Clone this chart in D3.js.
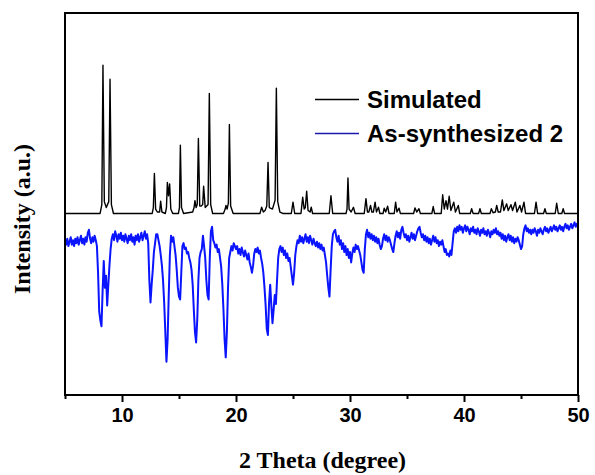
<!DOCTYPE html>
<html>
<head>
<meta charset="utf-8">
<script src="https://cdn.jsdelivr.net/npm/d3@7"></script>
<style>
  html, body { margin: 0; padding: 0; background: #fff; }
  svg { display: block; }
</style>
</head>
<body>
<svg id="chart" width="595" height="475"></svg>
<script>
// ---------------- DATA ----------------
const xTicks = [10, 20, 30, 40, 50];
const xMinorTicks = [5, 15, 25, 35, 45];
const seriesNames = ["Simulated", "As-synthesized 2"];

// Simulated pattern: [2theta, relative intensity] polyline points
const simPoints = [
  [5,0],
  [8.08,0],[8.23,6],[8.33,100],[8.45,8],[8.62,4],[8.84,8],[8.95,90.6],[9.07,6],[9.25,0],
  [12.65,0],[12.75,4],[12.84,27],[12.95,3],[13.1,1],[13.3,1],[13.39,8.3],[13.5,1],
  [13.8,0],[13.9,4],[13.98,21],[14.08,12],[14.18,20],[14.28,3],[14.45,0],
  [14.95,0],[15.04,4],[15.12,46],[15.22,4],[15.4,0],
  [16.2,1],[16.32,4],[16.4,8.7],[16.5,4],[16.6,6],[16.7,50.6],[16.82,5],[16.95,5],[17.08,6],[17.16,18.4],[17.3,4],[17.55,6],[17.66,81],[17.78,6],[17.95,0],
  [18.9,0],[19.05,3],[19.12,5.4],[19.22,3],[19.33,7],[19.42,60],[19.53,5],[19.75,0],
  [22.1,0],[22.25,4.2],[22.4,1],[22.55,2],[22.7,5],[22.81,34.5],[22.92,4],[23.2,3],[23.43,9],[23.54,84.5],[23.66,8],[23.85,1],[24.1,0],
  [24.85,0],[25.0,7.6],[25.15,0],
  [25.7,0],[25.85,11],[25.98,3],[26.08,4],[26.2,15],[26.32,2],[26.5,1],[26.6,4.2],[26.72,0],
  [28.18,0],[28.33,12],[28.48,0],
  [29.65,0],[29.74,3],[29.82,24],[29.92,3],[30.1,1],[30.3,4.2],[30.45,0],
  [31.25,0],[31.4,10],[31.53,1],[31.65,1],[31.8,5.4],[31.92,1],[32.05,1],[32.2,7.6],[32.32,1],[32.5,4.2],[32.62,0],
  [32.9,0],[33.0,3.6],[33.13,1],[33.3,4.9],[33.42,0],
  [33.88,0],[34.0,7.6],[34.12,1],[34.3,3.6],[34.42,0],
  [35.58,0],[35.7,3.8],[35.85,1],[36.05,3.2],[36.17,0],
  [37.18,0],[37.3,4.7],[37.42,0],
  [38.0,0],[38.13,12.6],[38.27,3],[38.42,8.7],[38.55,3],[38.7,11.6],[38.85,2],[39.1,7.6],[39.25,1],[39.5,5.4],[39.62,0],
  [40.55,0],[40.67,3.2],[40.8,0],
  [41.28,0],[41.4,3.2],[41.52,0],
  [42.28,0],[42.4,3.2],[42.55,0.5],[42.75,1],[42.87,5.4],[43.0,1],[43.2,1],[43.36,9.2],[43.5,2],[43.74,6.5],[43.88,2],[44.12,5.9],[44.26,2],[44.5,7.6],[44.65,1],[44.9,5.4],[45.05,1],[45.26,7.6],[45.4,0],
  [46.18,0],[46.32,7.6],[46.46,0],
  [46.98,0],[47.1,3.2],[47.22,0],
  [48.0,0],[48.13,6.9],[48.27,0],
  [48.58,0],[48.7,3.2],[48.82,0],
  [50,0]
];

// Experimental pattern (As-synthesized 2): start, step and intensities (same arbitrary units, plotted offset)
const expStart = 5.0;
const expStep = 0.1;
const expIntensity = [
  -18,-21,-17,-22,-19,-16,-21,-18,-22,-17,   // 5.x
  -20,-16,-21,-18,-15,-20,-17,-21,-16,-19,   // 6.x
  -13,-11,-17,-20,-16,-19,-15,-18,-22,-40,   // 7.x
  -66,-72,-76,-52,-32,-50,-42,-62,-48,-35,   // 8.x
  -24,-17,-14,-18,-12,-15,-19,-14,-17,-13,   // 9.x
  -18,-15,-19,-14,-17,-20,-15,-18,-14,-19,   // 10.x
  -16,-21,-15,-18,-14,-19,-16,-13,-18,-15,   // 11.x
  -12,-17,-14,-20,-45,-60,-48,-38,-26,-20,   // 12.x
  -14,-14,-18,-22,-28,-35,-45,-60,-80,-100,  // 13.x
  -85,-55,-28,-15,-19,-16,-22,-28,-38,-50,   // 14.x
  -56,-58,-40,-22,-20,-24,-23,-27,-26,-30,   // 15.x
  -33,-38,-48,-65,-80,-87,-72,-45,-30,-26,   // 16.x
  -24,-15,-22,-30,-45,-55,-58,-30,-12,-9,    // 17.x
  -18,-20,-23,-21,-26,-24,-30,-36,-48,-65,   // 18.x
  -85,-97,-80,-50,-30,-26,-22,-25,-20,-22,   // 19.x
  -24,-22,-27,-24,-28,-23,-26,-29,-25,-28,   // 20.x
  -31,-27,-33,-36,-40,-35,-27,-24,-26,-23,   // 21.x
  -27,-25,-30,-34,-40,-50,-62,-78,-82,-60,   // 22.x
  -48,-62,-74,-65,-55,-61,-45,-30,-24,-22,   // 23.x
  -26,-23,-28,-25,-30,-27,-32,-30,-36,-42,   // 24.x
  -48,-40,-28,-22,-18,-20,-15,-19,-16,-20,   // 25.x
  -17,-14,-19,-16,-20,-15,-18,-21,-17,-20,   // 26.x
  -22,-19,-23,-20,-24,-21,-25,-23,-28,-33,   // 27.x
  -42,-50,-56,-38,-22,-14,-12,-11,-16,-19,   // 28.x
  -15,-21,-18,-24,-20,-26,-22,-28,-24,-30,   // 29.x
  -26,-33,-27,-23,-26,-21,-24,-22,-25,-28,   // 30.x
  -33,-38,-40,-24,-14,-11,-16,-13,-17,-14,   // 31.x
  -18,-15,-19,-16,-20,-17,-21,-24,-22,-17,   // 32.x
  -14,-18,-15,-19,-16,-18,-21,-24,-26,-20,   // 33.x
  -15,-12,-16,-13,-17,-11,-9,-13,-16,-14,    // 34.x
  -18,-15,-19,-16,-13,-17,-14,-18,-15,-12,   // 35.x
  -10,-9,-13,-16,-14,-18,-15,-19,-16,-20,    // 36.x
  -17,-21,-18,-15,-19,-16,-20,-18,-22,-19,   // 37.x
  -21,-18,-22,-26,-24,-28,-27,-29,-25,-28,   // 38.x
  -20,-12,-10,-13,-9,-12,-8,-11,-9,-13,      // 39.x
  -10,-8,-12,-9,-11,-14,-10,-12,-9,-13,      // 40.x
  -11,-14,-10,-12,-15,-11,-13,-10,-14,-12,   // 41.x
  -15,-11,-13,-16,-12,-14,-11,-13,-10,-14,   // 42.x
  -12,-15,-13,-17,-14,-18,-15,-19,-16,-14,   // 43.x
  -18,-15,-19,-16,-20,-17,-19,-16,-18,-21,   // 44.x
  -24,-22,-14,-10,-8,-12,-10,-13,-11,-14,    // 45.x
  -11,-13,-10,-12,-15,-11,-13,-10,-12,-14,   // 46.x
  -11,-9,-12,-10,-13,-11,-9,-12,-10,-8,      // 47.x
  -11,-9,-12,-10,-8,-11,-9,-12,-9,-7,        // 48.x
  -10,-8,-11,-9,-7,-10,-8,-6,-9,-7,          // 49.x
  -8                                         // 50.0
];

// ---------------- CHART ----------------
const svg = d3.select("#chart");
const pLeft = 65, pRight = 578, pTop = 13, pBottom = 395;

const x = d3.scaleLinear().domain([5, 50]).range([pLeft, pRight]);
const y = d3.scaleLinear().domain([-122.4, 135.2]).range([pBottom, pTop]);

svg.append("defs").append("clipPath").attr("id", "clip")
  .append("rect").attr("x", pLeft).attr("y", pTop)
  .attr("width", pRight - pLeft).attr("height", pBottom - pTop);

const expPoints = expIntensity.map((v, i) => [expStart + i * expStep, v]);

const line = d3.line().x(d => x(d[0])).y(d => y(d[1]));

const plot = svg.append("g").attr("clip-path", "url(#clip)");
plot.append("path").datum(expPoints)
  .attr("fill", "none").attr("stroke", "#0a14ff")
  .attr("stroke-width", 2).attr("stroke-linejoin", "round")
  .attr("d", line);
plot.append("path").datum(simPoints)
  .attr("fill", "none").attr("stroke", "#000")
  .attr("stroke-width", 1.4).attr("stroke-linejoin", "round")
  .attr("d", line);

// frame
svg.append("rect").attr("x", pLeft).attr("y", pTop)
  .attr("width", pRight - pLeft).attr("height", pBottom - pTop)
  .attr("fill", "none").attr("stroke", "#000").attr("stroke-width", 2);

// x axis
const xAxis = d3.axisBottom(x).tickValues(xTicks).tickSize(7).tickPadding(6)
  .tickFormat(d3.format("d"));
const gx = svg.append("g").attr("transform", `translate(0,${pBottom})`).call(xAxis);
gx.select(".domain").remove();
gx.selectAll(".tick line").attr("stroke", "#000").attr("stroke-width", 2);
gx.selectAll(".tick text")
  .attr("font-family", "'Liberation Sans', Arial, sans-serif")
  .attr("font-weight", "bold").attr("font-size", 20).attr("fill", "#000");

const xAxisMinor = d3.axisBottom(x).tickValues(xMinorTicks).tickSize(4).tickFormat("");
const gxm = svg.append("g").attr("transform", `translate(0,${pBottom})`).call(xAxisMinor);
gxm.select(".domain").remove();
gxm.selectAll(".tick line").attr("stroke", "#000").attr("stroke-width", 2);

// axis titles
svg.append("text")
  .attr("x", (pLeft + pRight) / 2 + 1).attr("y", 468)
  .attr("text-anchor", "middle")
  .attr("font-family", "'Liberation Serif', 'Times New Roman', serif")
  .attr("font-weight", "bold").attr("font-size", 24)
  .text("2 Theta (degree)");

svg.append("text")
  .attr("transform", "translate(30,219) rotate(-90)")
  .attr("text-anchor", "middle")
  .attr("font-family", "'Liberation Serif', 'Times New Roman', serif")
  .attr("font-weight", "bold").attr("font-size", 24)
  .text("Intensity (a.u.)");

// legend
const legendColors = ["#000", "#1a1ab0"];
const legend = svg.append("g");
seriesNames.forEach((name, i) => {
  const ly = 99.5 + i * 34;
  legend.append("line").attr("x1", 315).attr("x2", 359).attr("y1", ly).attr("y2", ly)
    .attr("stroke", legendColors[i]).attr("stroke-width", 1.5);
  legend.append("text").attr("x", 367).attr("y", ly + 8.5)
    .attr("font-family", "'Liberation Sans', Arial, sans-serif")
    .attr("font-weight", "bold").attr("font-size", 24).attr("fill", "#000")
    .text(name);
});
</script>
</body>
</html>
